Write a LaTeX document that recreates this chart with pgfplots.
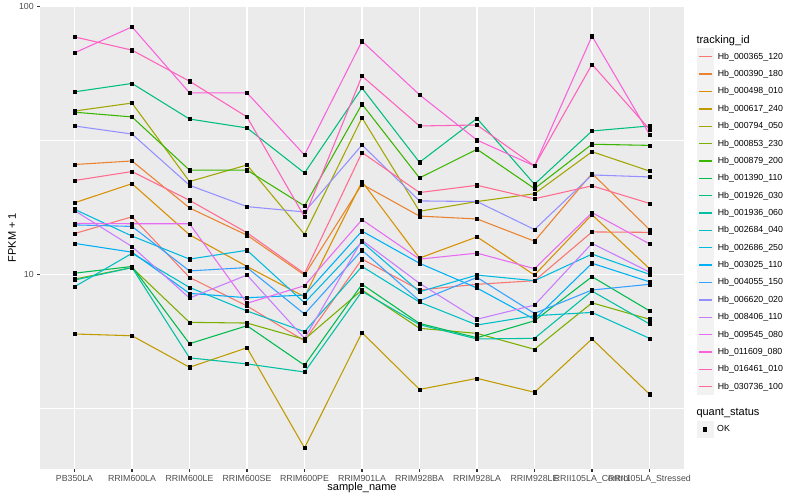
\documentclass[border=0pt]{standalone}
\usepackage{pgfplots}
\usepackage{pgfplotstable}
\pgfplotsset{compat=1.18}
\usepackage{fontspec}
\setmainfont{Liberation Sans}
\setsansfont{Liberation Sans}

% ggplot2 hue palette, 20 levels
\definecolor{c1}{HTML}{F8766D}
\definecolor{c2}{HTML}{EA8331}
\definecolor{c3}{HTML}{D89000}
\definecolor{c4}{HTML}{C09B00}
\definecolor{c5}{HTML}{A3A500}
\definecolor{c6}{HTML}{7CAE00}
\definecolor{c7}{HTML}{39B600}
\definecolor{c8}{HTML}{00BB4E}
\definecolor{c9}{HTML}{00BF7D}
\definecolor{c10}{HTML}{00C1A3}
\definecolor{c11}{HTML}{00BFC4}
\definecolor{c12}{HTML}{00BAE0}
\definecolor{c13}{HTML}{00B0F6}
\definecolor{c14}{HTML}{35A2FF}
\definecolor{c15}{HTML}{9590FF}
\definecolor{c16}{HTML}{C77CFF}
\definecolor{c17}{HTML}{E76BF3}
\definecolor{c18}{HTML}{FA62DB}
\definecolor{c19}{HTML}{FF62BC}
\definecolor{c20}{HTML}{FF6C91}
\definecolor{panel}{HTML}{EBEBEB}
\definecolor{keybg}{HTML}{F2F2F2}
\definecolor{labgray}{HTML}{4D4D4D}
\definecolor{tickgray}{HTML}{333333}

% FPKM + 1, one column per tracking_id, rows = samples
\pgfplotstableread{
x  s1    s2   s3    s4   s5   s6   s7   s8   s9   s10  s11   s12  s13   s14  s15  s16   s17   s18  s19  s20
0  14.2  25.7 18.5  5.99 40.7 9.60 40.3 10.1 48.0 9.52 8.99  17.5 13.05 15.3 35.8 17.3  15.5  67.1 77.0 22.4
1  16.4  26.5 21.8  5.90 43.6 10.6 38.7 10.7 51.6 10.6 11.98 13.9 12.1  15.1 33.4 12.7  15.45 83.9 68.7 24.2
2  9.74  17.7 14.05 4.50 22.2 6.62 24.5 5.51 38.0 4.88 8.94  11.4 8.49  10.3 21.5 8.16  15.45 47.6 52.6 18.9
3  7.62  14.0 10.7  5.32 25.6 6.58 24.5 6.43 35.2 4.63 7.30  12.3 8.18  10.6 17.9 9.94  7.80  47.6 38.7 14.3
4  5.65  9.94 8.25  2.25 14.1 5.72 18.0 4.58 23.9 4.32 6.11  7.83 8.37  7.11 17.1 5.77  9.07  27.9 16.4 10.07
5  11.4  21.7 22.2  6.06 38.4 8.74 43.2 9.18 49.6 8.64 10.7  13.2 14.5  12.3 30.4 13.4  16.0  74.2 55.0 28.5
6  8.74  16.5 11.5  3.72 17.2 6.29 22.9 6.56 26.2 6.49 7.88  8.61 11.0  7.97 18.8 9.26  11.4  46.8 35.8 20.2
7  9.18  16.1 13.8  4.09 18.7 6.02 29.3 5.80 38.2 5.74 6.47  9.94 8.89  9.74 18.7 6.80  12.0  31.7 36.1 21.5
8  9.47  13.3 9.94  3.63 20.0 5.25 20.9 6.71 21.7 5.77 7.01  9.47 6.80  7.15 14.7 7.68  10.5  25.4 25.4 19.15
9  14.4  23.8 16.7  5.74 28.7 7.83 30.6 9.80 34.3 8.66 7.21  11.9 11.0  8.74 23.5 13.05 17.0  77.5 60.8 21.4
10 14.35 14.7 10.5  3.57 24.3 6.80 30.3 7.31 35.8 6.53 5.77  10.0 9.38  9.18 23.1 10.2  13.0  33.3 34.8 18.4
}\fpkm

\begin{document}
\begin{tikzpicture}
\fill[white] (0,0) rectangle (800bp,500bp);
\path[use as bounding box] (0,0) rectangle (800bp,500bp);

\begin{axis}[
    at={(40bp,31bp)}, anchor=south west,
    scale only axis, width=644bp, height=463bp,
    xmin=-0.6, xmax=10.6,
    ymode=log, ymin=1.877, ymax=100.4,
    axis background/.style={fill=panel},
    axis line style={draw=none},
    xtick={0,...,10},
    xticklabels={PB350LA,RRIM600LA,RRIM600LE,RRIM600SE,RRIM600PE,RRIM901LA,RRIM928BA,RRIM928LA,RRIM928LE,RRII105LA\_Control,RRII105LA\_Stressed},
    ytick={10,100}, yticklabels={10,100},
    minor ytick={3.16227766,31.6227766},
    grid=both,
    major grid style={white, line width=1.07bp},
    minor grid style={white, line width=0.53bp},
    tick align=outside, tick pos=left,
    major tick length=2.75bp, minor tick length=0pt,
    tick style={tickgray, line width=1.07bp},
    ticklabel style={font=\fontsize{8.8bp}{10bp}\selectfont, text=labgray},
    xlabel={sample\_name}, ylabel={FPKM + 1},
    label style={font=\fontsize{11bp}{13bp}\selectfont, text=black},
    xlabel style={at={(axis description cs:0.5,-0.041)}, anchor=center},
    ylabel style={at={(axis description cs:-0.0435,0.5)}, anchor=center},
    legend cell align=left,
    legend style={at={(axis description cs:1.0194,0.9093)}, anchor=north west,
        draw=none, fill=none, inner sep=0pt, outer sep=0pt,
        row sep=-0.1bp, column sep=4bp,
        nodes={inner sep=0pt, font=\fontsize{8.8bp}{10bp}\selectfont, text=black}},
    legend image code/.code={
        \fill[keybg] (0bp,-8.2bp) rectangle (16.3bp,8.2bp);
        \draw[#1, line width=1.4bp] (1.7bp,0bp) -- (14.6bp,0bp);
    },
    legend entries={Hb\_000365\_120,Hb\_000390\_180,Hb\_000498\_010,Hb\_000617\_240,Hb\_000794\_050,Hb\_000853\_230,Hb\_000879\_200,Hb\_001390\_110,Hb\_001926\_030,Hb\_001936\_060,Hb\_002684\_040,Hb\_002686\_250,Hb\_003025\_110,Hb\_004055\_150,Hb\_006620\_020,Hb\_008406\_110,Hb\_009545\_080,Hb\_011609\_080,Hb\_016461\_010,Hb\_030736\_100},
]
\pgfplotsinvokeforeach{1,...,20}{
    \addplot[c#1, line width=1.07bp, line join=round] table[x=x, y=s#1] {\fpkm};
}
\pgfplotsinvokeforeach{1,...,20}{
    \addplot[forget plot, only marks, mark=square*, mark size=1.6bp, black] table[x=x, y=s#1] {\fpkm};
}
\end{axis}

% second legend: quant_status
\begin{axis}[
    at={(40bp,31bp)}, anchor=south west,
    scale only axis, width=644bp, height=463bp,
    hide axis, xmin=0, xmax=1, ymin=0, ymax=1,
    legend cell align=left,
    legend style={at={(axis description cs:1.0194,0.1041)}, anchor=north west,
        draw=none, fill=none, inner sep=0pt, outer sep=0pt, column sep=4bp,
        nodes={inner sep=0pt, font=\fontsize{8.8bp}{10bp}\selectfont, text=black}},
]
\addlegendimage{legend image code/.code={
    \fill[keybg] (0bp,-8.2bp) rectangle (16.3bp,8.2bp);
    \fill[black] (6.5bp,-1.6bp) rectangle (9.8bp,1.6bp);
}}
\addlegendentry{OK}
\end{axis}

\node[anchor=west, inner sep=0pt, font=\fontsize{11bp}{13bp}\selectfont] at (696.3bp,459.7bp) {tracking\_id};
\node[anchor=west, inner sep=0pt, font=\fontsize{11bp}{13bp}\selectfont] at (696.3bp,87.3bp) {quant\_status};
\end{tikzpicture}
\end{document}
